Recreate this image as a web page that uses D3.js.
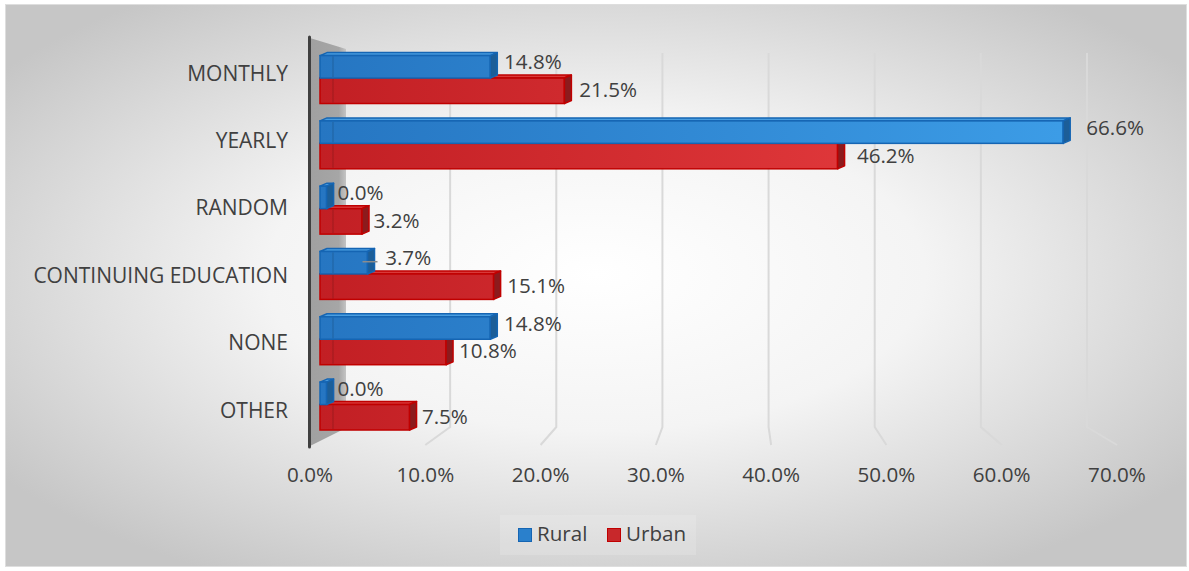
<!DOCTYPE html>
<html>
<head>
<meta charset="utf-8">
<script src="https://cdn.jsdelivr.net/npm/d3@7/dist/d3.min.js"></script>
<style>
    body { margin: 0; background: #ffffff; }
    svg text { font-family: "Open Sans", "DejaVu Sans", sans-serif; fill: #404040; }
</style>
</head>
<body>
<script>
// ! DATA ! //
const categories = ["MONTHLY", "YEARLY", "RANDOM", "CONTINUING EDUCATION", "NONE", "OTHER"];
const seriesNames = ["Rural", "Urban"];
const ruralValues = [14.8, 66.6, 0.0, 3.7, 14.8, 0.0];
const urbanValues = [21.5, 46.2, 3.2, 15.1, 10.8, 7.5];
const tickValues = [0, 10, 20, 30, 40, 50, 60, 70];

// ! LAYOUT ! //
const width = 1189;
const height = 571;
const depthX = 7;
const depthY = 3;
const barBase = 320;
const fontSize = 20.6;

const colors = {
    Rural: { left: "#2676c2", right: "#3d9ee8", stroke: "#1565b3", top: "#4a9ee0", end: "#1c5e98" },
    Urban: { left: "#c21f24", right: "#ec4244", stroke: "#c00000", top: "#d83a3a", end: "#8c1b1d" },
};

const svg = d3.select("body").append("svg").attr("width", width).attr("height", height);
const defs = svg.append("defs");

// ^ BACKGROUND GRADIENT ^ //
const bg = defs.append("radialGradient").attr("id", "bg").attr("cx", "50%").attr("cy", "48%").attr("r", "62%");
bg.append("stop").attr("offset", "0%").attr("stop-color", "#ffffff");
bg.append("stop").attr("offset", "45%").attr("stop-color", "#f4f4f4");
bg.append("stop").attr("offset", "100%").attr("stop-color", "#c6c6c6");

seriesNames.forEach((name) => {
    const g = defs.append("linearGradient").attr("id", "grad" + name)
        .attr("gradientUnits", "userSpaceOnUse").attr("x1", barBase).attr("x2", 1100).attr("y1", 0).attr("y2", 0);
    g.append("stop").attr("offset", "0%").attr("stop-color", colors[name].left);
    g.append("stop").attr("offset", "100%").attr("stop-color", colors[name].right);
});

const wallGrad = defs.append("linearGradient").attr("id", "wallGrad");
wallGrad.append("stop").attr("offset", "0%").attr("stop-color", "#a0a0a0");
wallGrad.append("stop").attr("offset", "80%").attr("stop-color", "#a6a6a6");
wallGrad.append("stop").attr("offset", "100%").attr("stop-color", "#c4c4c4");

svg.append("rect").attr("x", 5.5).attr("y", 4.5).attr("width", 1181).attr("height", 562)
    .attr("fill", "url(#bg)").attr("stroke", "#dedede").attr("stroke-width", 1);

// ! SCALES ! //
const xBack = d3.scaleLinear().domain([0, 70]).range([344, 1087]);
const xFront = d3.scaleLinear().domain([0, 70]).range([310, 1117]);
const xBar = d3.scaleLinear().domain([0, 70]).range([333.6, 1107.8]);
const xLabel = d3.scaleLinear().domain([0, 70]).range([337.6, 1124.4]);

const yBand = d3.scaleBand().domain(categories).range([45.4, 437.2]).paddingInner(0.22).paddingOuter(0.11);
const ySeries = d3.scaleBand().domain(seriesNames).range([0, yBand.bandwidth()]);
const yLabel = d3.scalePoint().domain(categories).range([75, 412]);

// ^ GRIDLINES ^ //
svg.append("g").attr("class", "grid")
    .selectAll("path")
    .data(tickValues.filter((t) => t > 0))
    .enter()
    .append("path")
    .attr("d", (t) => `M${xBack(t)},53 L${xBack(t)},427 L${xFront(t)},445`)
    .attr("fill", "none")
    .attr("stroke", "#d9d9d9")
    .attr("stroke-width", 2);

// ^ SIDE WALL ^ //
svg.append("path")
    .attr("d", `M310,38 L346,49 L346,428 L310,446 Z`)
    .attr("fill", "url(#wallGrad)");
svg.append("line")
    .attr("x1", 309.5).attr("x2", 309.5).attr("y1", 37).attr("y2", 447)
    .attr("stroke", "#404040").attr("stroke-width", 3).attr("stroke-linecap", "round");

// ^ X AXIS LABELS ^ //
svg.append("g").attr("class", "x-axis")
    .selectAll("text")
    .data(tickValues)
    .enter()
    .append("text")
    .attr("x", (t) => xFront(t))
    .attr("y", 476)
    .attr("text-anchor", "middle")
    .attr("dominant-baseline", "middle")
    .attr("font-size", fontSize)
    .text((t) => t.toFixed(1) + "%");

// ^ CATEGORY LABELS ^ //
svg.append("g").attr("class", "y-axis")
    .selectAll("text")
    .data(categories)
    .enter()
    .append("text")
    .attr("x", 288)
    .attr("y", (c) => yLabel(c))
    .attr("text-anchor", "end")
    .attr("dominant-baseline", "middle")
    .attr("font-size", 21)
    .text((c) => c);

// ! BARS ! //
const barData = [];
categories.forEach((c, i) => {
    barData.push({ category: c, series: "Urban", value: urbanValues[i] });
    barData.push({ category: c, series: "Rural", value: ruralValues[i] });
});
// draw urban first so that rural bars cover the urban top faces
barData.sort((a, b) => (a.series === b.series ? 0 : a.series === "Urban" ? -1 : 1));

const bars = svg.append("g").attr("class", "bars")
    .selectAll("g")
    .data(barData)
    .enter()
    .append("g");

const geo = (d) => {
    const y0 = yBand(d.category) + ySeries(d.series) + (d.series === "Rural" ? depthY : 0);
    const y1 = yBand(d.category) + ySeries(d.series) + ySeries.bandwidth();
    const xe = xBar(d.value);
    return { x0: barBase, y0, y1, xe, xf: xe - depthX };
};

bars.append("path")
    .attr("d", (d) => {
        const g = geo(d);
        return `M${g.x0},${g.y0} L${g.x0 + depthX},${g.y0 - depthY} L${g.xe},${g.y0 - depthY} L${g.xf},${g.y0} Z`;
    })
    .attr("fill", (d) => colors[d.series].top)
    .attr("stroke", (d) => colors[d.series].stroke)
    .attr("stroke-width", 1.5)
    .attr("stroke-linejoin", "round");

bars.append("rect")
    .attr("x", (d) => geo(d).x0)
    .attr("y", (d) => geo(d).y0)
    .attr("width", (d) => geo(d).xf - geo(d).x0)
    .attr("height", (d) => geo(d).y1 - geo(d).y0)
    .attr("fill", (d) => `url(#grad${d.series})`)
    .attr("stroke", (d) => colors[d.series].stroke)
    .attr("stroke-width", 1.5);

bars.append("path")
    .attr("d", (d) => {
        const g = geo(d);
        return `M${g.xf},${g.y0} L${g.xe},${g.y0 - depthY} L${g.xe},${g.y1 - depthY} L${g.xf},${g.y1} Z`;
    })
    .attr("fill", (d) => colors[d.series].end)
    .attr("stroke", (d) => colors[d.series].stroke)
    .attr("stroke-width", 1.5)
    .attr("stroke-linejoin", "round");

// inner edge where the bar meets the wall
bars.filter((d) => d.value > 1)
    .append("line")
    .attr("x1", (d) => barBase + depthX + 6)
    .attr("x2", (d) => barBase + depthX + 6)
    .attr("y1", (d) => geo(d).y0 + 1)
    .attr("y2", (d) => geo(d).y1 - 1)
    .attr("stroke", "#000")
    .attr("stroke-opacity", 0.12)
    .attr("stroke-width", 1.5);

// ^ DATA LABELS ^ //
svg.append("g").attr("class", "data-labels")
    .selectAll("text")
    .data(barData)
    .enter()
    .append("text")
    .attr("x", (d) => xLabel(d.value) + (d.category === "CONTINUING EDUCATION" && d.series === "Rural" ? 6 : 0))
    .attr("y", (d) => {
        const g = geo(d);
        return (g.y0 + g.y1) / 2 - (d.series === "Rural" ? 3 : -1);
    })
    .attr("dominant-baseline", "middle")
    .attr("font-size", fontSize)
    .text((d) => d.value.toFixed(1) + "%");

// leader line for the moved label
const ce = barData.find((d) => d.category === "CONTINUING EDUCATION" && d.series === "Rural");
svg.append("line")
    .attr("x1", xBar(ce.value) - 12)
    .attr("x2", xBar(ce.value) + 3)
    .attr("y1", (geo(ce).y0 + geo(ce).y1) / 2 - 1)
    .attr("y2", (geo(ce).y0 + geo(ce).y1) / 2 - 1)
    .attr("stroke", "#8c8c8c")
    .attr("stroke-width", 1.5);

// ! LEGEND ! //
const legend = svg.append("g").attr("class", "legend");
legend.append("rect").attr("x", 500).attr("y", 515).attr("width", 196).attr("height", 40)
    .attr("fill", "#ffffff").attr("fill-opacity", 0.15);
const legendX = d3.scaleOrdinal().domain(seriesNames).range([518, 607]);
const legendItems = legend.selectAll("g.item").data(seriesNames).enter().append("g").attr("class", "item");
legendItems.append("rect")
    .attr("x", (s) => legendX(s) + 0.5)
    .attr("y", 528.5)
    .attr("width", 13)
    .attr("height", 13)
    .attr("fill", (s) => (s === "Rural" ? "#2a80cc" : "#c8282b"))
    .attr("stroke", (s) => colors[s].stroke)
    .attr("stroke-width", 1);
legendItems.append("text")
    .attr("x", (s) => legendX(s) + 19)
    .attr("y", 535)
    .attr("dominant-baseline", "middle")
    .attr("font-size", fontSize)
    .text((s) => s);
</script>
</body>
</html>
